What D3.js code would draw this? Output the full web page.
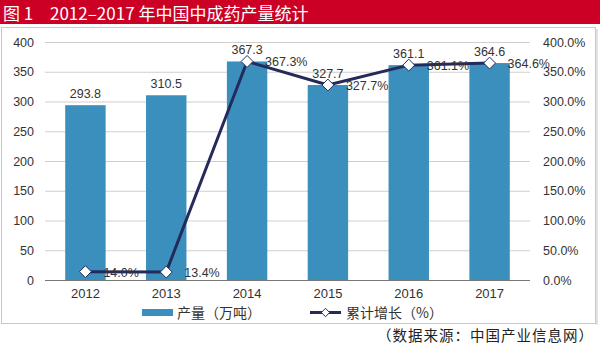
<!DOCTYPE html>
<html>
<head>
<meta charset="utf-8">
<script src="https://cdn.jsdelivr.net/npm/d3@7"></script>
<style>
  html, body { margin: 0; padding: 0; background: #fff; }
  svg { display: block; }
</style>
</head>
<body>
<svg id="chart" width="600" height="349"></svg>
<script>
// Data: annual output of Chinese patent medicine (10k tonnes) and cumulative growth (%)
const years = ["2012", "2013", "2014", "2015", "2016", "2017"];
const output = [293.8, 310.5, 367.3, 327.7, 361.1, 364.6];
const growth = [14.0, 13.4, 367.3, 327.7, 361.1, 364.6];
const leftTicks = [0, 50, 100, 150, 200, 250, 300, 350, 400];
const rightTicks = [0, 50, 100, 150, 200, 250, 300, 350, 400];

const svg = d3.select("#chart");
const font = "'Liberation Sans', Arial, 'Noto Sans CJK SC', sans-serif";
const cjk = "'Noto Sans CJK SC', 'Liberation Sans', sans-serif";

// Title band
svg.append("rect").attr("x", 0).attr("y", 0).attr("width", 600).attr("height", 24).attr("fill", "#cc0025");
svg.append("text").attr("x", 3).attr("y", 20).attr("fill", "#fff")
  .style("font-family", cjk).style("font-size", "17px")
  .text("图 1");
svg.append("text").attr("x", 50).attr("y", 20).attr("fill", "#fff")
  .style("font-family", cjk).style("font-size", "17px")
  .text("2012–2017 年中国中成药产量统计");

// Chart frame
svg.append("rect").attr("x", 1.5).attr("y", 27.5).attr("width", 594).attr("height", 296)
  .attr("fill", "#fff").attr("stroke", "#c8c8c8").attr("stroke-width", 1);
svg.append("line").attr("x1", 597).attr("x2", 597).attr("y1", 29).attr("y2", 325)
  .attr("stroke", "#e2e2e2").attr("stroke-width", 2);

const plot = { left: 45, right: 530, top: 42, bottom: 280 };

const x = d3.scaleBand().domain(years).range([plot.left, plot.right]).paddingInner(0.5).paddingOuter(0.25);
const yL = d3.scaleLinear().domain([0, 400]).range([plot.bottom, plot.top]);
const yR = d3.scaleLinear().domain([0, 400]).range([plot.bottom, plot.top]);

// Gridlines
svg.append("g").selectAll("line").data(leftTicks.filter(d => d > 0)).join("line")
  .attr("x1", plot.left).attr("x2", plot.right)
  .attr("y1", d => yL(d) + 0.5).attr("y2", d => yL(d) + 0.5)
  .attr("stroke", "#cfcfcf").attr("stroke-width", 1.2);

// Left axis
const axL = svg.append("g").attr("transform", `translate(${plot.left - 9},0)`)
  .call(d3.axisLeft(yL).tickValues(leftTicks).tickSize(0).tickPadding(2));
axL.select(".domain").remove();
axL.selectAll("text").style("font-family", font).style("font-size", "12.5px").attr("fill", "#333");

// Right axis
const axR = svg.append("g").attr("transform", `translate(${plot.right + 13},0)`)
  .call(d3.axisRight(yR).tickValues(rightTicks).tickSize(0).tickPadding(0).tickFormat(d => d.toFixed(1) + "%"));
axR.select(".domain").remove();
axR.selectAll("text").style("font-family", font).style("font-size", "12.5px").attr("fill", "#333");

// Bars
svg.append("g").selectAll("rect").data(years).join("rect")
  .attr("x", d => x(d)).attr("width", x.bandwidth())
  .attr("y", (d, i) => yL(output[i])).attr("height", (d, i) => yL(0) - yL(output[i]))
  .attr("fill", "#3a8fbc");

// Bar value labels
svg.append("g").selectAll("text").data(years).join("text")
  .attr("x", d => x(d) + x.bandwidth() / 2)
  .attr("y", (d, i) => yL(output[i]) - 7)
  .attr("text-anchor", "middle")
  .style("font-family", font).style("font-size", "12.5px").attr("fill", "#333")
  .text((d, i) => output[i].toFixed(1));

// X axis line
svg.append("line").attr("x1", plot.left).attr("x2", plot.right)
  .attr("y1", plot.bottom + 0.5).attr("y2", plot.bottom + 0.5)
  .attr("stroke", "#777").attr("stroke-width", 1.2);

// X labels
const axB = svg.append("g").attr("transform", `translate(0,${plot.bottom})`)
  .call(d3.axisBottom(x).tickSize(0).tickPadding(9));
axB.select(".domain").remove();
axB.selectAll("text").style("font-family", font).style("font-size", "13px").attr("fill", "#333");

// Growth line
const cx = d => x(d) + x.bandwidth() / 2;
const line = d3.line().x((d, i) => cx(years[i])).y(d => yR(d));
svg.append("path").datum(growth).attr("d", line)
  .attr("fill", "none").attr("stroke", "#252a5c").attr("stroke-width", 3).attr("stroke-linejoin", "round");

const diamond = d3.symbol().type(d3.symbolDiamond2).size(90);
svg.append("g").selectAll("path").data(growth).join("path")
  .attr("transform", (d, i) => `translate(${cx(years[i])},${yR(d)})`)
  .attr("d", diamond)
  .attr("fill", "#fff").attr("stroke", "#252a5c").attr("stroke-width", 1);

// Growth labels
svg.append("g").selectAll("text").data(growth).join("text")
  .attr("x", (d, i) => cx(years[i]) + 18)
  .attr("y", d => yR(d) + 5)
  .style("font-family", font).style("font-size", "12.5px").attr("fill", "#333")
  .text(d => d.toFixed(1) + "%");

// Legend
const lg = svg.append("g");
lg.append("rect").attr("x", 142).attr("y", 309).attr("width", 31).attr("height", 7).attr("fill", "#3a8fbc");
lg.append("text").attr("x", 177).attr("y", 318)
  .style("font-family", cjk).style("font-size", "14px").attr("fill", "#333").text("产量（万吨）");
lg.append("line").attr("x1", 310).attr("x2", 341).attr("y1", 312.5).attr("y2", 312.5)
  .attr("stroke", "#252a5c").attr("stroke-width", 3);
lg.append("path").attr("transform", "translate(325.5,312.5)").attr("d", d3.symbol().type(d3.symbolDiamond2).size(45))
  .attr("fill", "#fff").attr("stroke", "#252a5c").attr("stroke-width", 1);
lg.append("text").attr("x", 346).attr("y", 318)
  .style("font-family", cjk).style("font-size", "14px").attr("fill", "#333").text("累计增长（%）");

// Source note
svg.append("text").attr("x", 594).attr("y", 341).attr("text-anchor", "end")
  .style("font-family", cjk).style("font-size", "14.5px").style("letter-spacing", "1px").attr("fill", "#222")
  .text("（数据来源：中国产业信息网）");
</script>
</body>
</html>
